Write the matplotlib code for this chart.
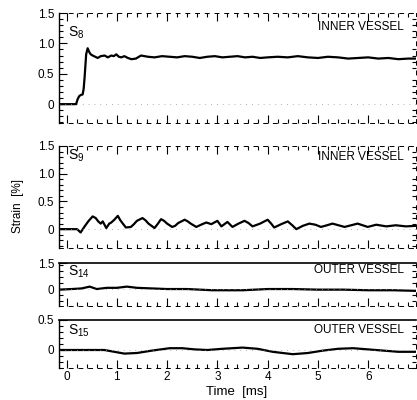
import numpy as np
import matplotlib
matplotlib.use("Agg")
import matplotlib.pyplot as plt
from matplotlib.ticker import MultipleLocator, FixedLocator

plt.rcParams['font.family'] = ['Liberation Sans', 'DejaVu Sans']

# S8 - inner vessel
t_s8 = [-0.15, 0.0, 0.19, 0.22, 0.25, 0.28, 0.32, 0.34, 0.36, 0.39, 0.42, 0.45, 0.48, 0.52,
        0.57, 0.62, 0.68, 0.76, 0.82, 0.89, 0.94, 0.99, 1.04, 1.09, 1.15, 1.22, 1.29, 1.38,
        1.48, 1.55, 1.62, 1.75, 1.9, 2.05, 2.2, 2.35, 2.5, 2.65, 2.8, 2.95, 3.1, 3.25, 3.4,
        3.55, 3.7, 3.85, 4.0, 4.2, 4.4, 4.6, 4.8, 5.0, 5.2, 5.4, 5.6, 5.8, 6.0, 6.2, 6.4,
        6.6, 6.8, 6.95]
v_s8 = [0.0, 0.0, 0.0, 0.08, 0.13, 0.15, 0.16, 0.25, 0.45, 0.82, 0.92, 0.86, 0.82, 0.80,
        0.78, 0.76, 0.79, 0.80, 0.77, 0.80, 0.79, 0.82, 0.78, 0.77, 0.79, 0.76, 0.74, 0.75,
        0.80, 0.79, 0.78, 0.77, 0.79, 0.78, 0.77, 0.79, 0.78, 0.76, 0.78, 0.79, 0.77, 0.78,
        0.79, 0.77, 0.78, 0.76, 0.77, 0.78, 0.77, 0.79, 0.77, 0.76, 0.78, 0.77, 0.75, 0.76,
        0.77, 0.75, 0.76, 0.74, 0.75, 0.75]

# S9 - inner vessel
t_s9 = [-0.15, 0.0, 0.21, 0.28, 0.36, 0.44, 0.52, 0.58, 0.63, 0.68, 0.72, 0.79, 0.85, 0.89,
        0.95, 1.02, 1.07, 1.12, 1.18, 1.28, 1.34, 1.4, 1.51, 1.57, 1.63, 1.75, 1.81, 1.88,
        1.94, 2.0, 2.1, 2.16, 2.22, 2.35, 2.41, 2.47, 2.58, 2.7, 2.78, 2.88, 3.0, 3.08, 3.2,
        3.3, 3.42, 3.54, 3.62, 3.7, 3.85, 4.0, 4.07, 4.13, 4.27, 4.4, 4.49, 4.57, 4.7, 4.83,
        4.95, 5.06, 5.18, 5.29, 5.41, 5.53, 5.66, 5.79, 5.89, 5.99, 6.16, 6.36, 6.55,
        6.75, 6.95]
v_s9 = [0.0, 0.0, 0.0, -0.06, 0.05, 0.15, 0.23, 0.2, 0.14, 0.10, 0.14, 0.02, 0.10, 0.12,
        0.17, 0.24, 0.16, 0.10, 0.03, 0.04, 0.09, 0.15, 0.20, 0.16, 0.10, 0.02, 0.09, 0.18,
        0.15, 0.10, 0.04, 0.06, 0.11, 0.17, 0.14, 0.10, 0.04, 0.09, 0.12, 0.09, 0.15, 0.05,
        0.13, 0.04, 0.10, 0.15, 0.11, 0.05, 0.10, 0.17, 0.10, 0.03, 0.09, 0.14, 0.07, 0.00,
        0.06, 0.10, 0.08, 0.04, 0.07, 0.10, 0.07, 0.04, 0.07, 0.10, 0.07, 0.04, 0.08, 0.05,
        0.07, 0.05, 0.06]

# S14 - outer vessel
t_s14 = [-0.15, 0.1, 0.3, 0.46, 0.6, 0.8, 1.0, 1.2, 1.4, 1.7, 2.0, 2.4, 2.9, 3.2, 3.5,
         4.0, 4.5, 5.0, 5.5, 6.0, 6.5, 6.95]
v_s14 = [-0.01, 0.0, 0.01, 0.04, 0.0, 0.02, 0.02, 0.04, 0.02, 0.01, 0.0, 0.0, -0.02,
         -0.02, -0.02, 0.0, 0.0, -0.01, -0.01, -0.02, -0.02, -0.03]

# S15 - outer vessel
t_s15 = [-0.15, 0.3, 0.75, 0.95, 1.15, 1.4, 1.7, 2.05, 2.3, 2.55, 2.8, 3.1, 3.5, 3.8,
         4.1, 4.5, 4.8, 5.1, 5.4, 5.7, 6.0, 6.3, 6.6, 6.95]
v_s15 = [0.0, 0.0, 0.0, -0.03, -0.06, -0.05, -0.01, 0.03, 0.03, 0.01, 0.0, 0.02, 0.04,
         0.02, -0.03, -0.07, -0.05, -0.01, 0.02, 0.03, 0.01, -0.01, -0.03, -0.03]

names = ['8', '9', '14', '15']
vessels = ['INNER VESSEL', 'INNER VESSEL', 'OUTER VESSEL', 'OUTER VESSEL']
series = [(t_s8, v_s8), (t_s9, v_s9), (t_s14, v_s14), (t_s15, v_s15)]
ylims = [(-0.31, 1.5), (-0.34, 1.5), (-0.28, 0.43), (-0.3, 0.5)]
yticks = [[0, 0.5, 1.0, 1.5], [0, 0.5, 1.0, 1.5], [0, 0.43], [0, 0.5]]
yticklabels = [['0', '0.5', '1.0', '1.5'], ['0', '0.5', '1.0', '1.5'], ['0', '1.5'], ['0', '0.5']]

# axes boxes [left, bottom, width, height] in figure fraction
boxes = [[0.1415, 0.6925, 0.856, 0.275],
         [0.1415, 0.38, 0.856, 0.255],
         [0.1415, 0.235, 0.856, 0.1075],
         [0.1415, 0.08, 0.856, 0.12]]
# label heights inside each panel (axes fraction)
label_y = [0.82, 0.90, 0.80, 0.77]
vessel_y = [0.87, 0.89, 0.84, 0.79]

fig = plt.figure(figsize=(4.17, 4.0), dpi=100)

for i in range(4):
    ax = fig.add_axes(boxes[i])
    t, v = series[i]
    ax.plot(t, v, color='black', lw=1.6)
    ax.axhline(0, color='0.6', lw=0.6, ls=(0, (1, 6)))
    ax.set_xlim(-0.15, 6.95)
    ax.set_ylim(*ylims[i])
    ax.yaxis.set_major_locator(FixedLocator(yticks[i]))
    ax.set_yticklabels(yticklabels[i], fontsize=8.5)
    ax.yaxis.set_minor_locator(MultipleLocator(0.1))
    ax.xaxis.set_major_locator(MultipleLocator(1))
    ax.xaxis.set_minor_locator(MultipleLocator(0.2))
    ax.tick_params(which='major', direction='in', length=6, width=0.8,
                   top=(i < 2), right=False, bottom=True, left=True)
    ax.tick_params(which='minor', direction='in', length=3, width=0.8,
                   top=(i < 2), right=True, bottom=True, left=True)
    ax.tick_params(axis='y', which='major', right=False)
    ax.tick_params(axis='x', pad=2)
    for s in ['bottom', 'right']:
        ax.spines[s].set_linestyle((0, (4, 6)))
        ax.spines[s].set_linewidth(0.7)
    if i < 2:
        ax.spines['top'].set_linestyle((0, (4, 6)))
        ax.spines['top'].set_linewidth(0.7)
    else:
        ax.spines['top'].set_linewidth(1.2)
    ax.spines['left'].set_linewidth(1.0)
    if i < 3:
        ax.set_xticklabels([])
    else:
        ax.set_xticklabels([str(int(round(x))) for x in ax.get_xticks()], fontsize=8.5)
    ax.text(0.025, label_y[i], 'S$_{\\mathregular{' + names[i] + '}}$', transform=ax.transAxes,
            fontsize=10, va='center', ha='left')
    ax.text(0.965, vessel_y[i], vessels[i], transform=ax.transAxes,
            fontsize=8.5, va='center', ha='right')

fig.text(0.043, 0.485, 'Strain  [%]', rotation=90, fontsize=8.5, va='center', ha='center')
fig.text(0.568, 0.02, 'Time  [ms]', fontsize=9.5, va='center', ha='center')

fig.savefig('out.png', dpi=100)
